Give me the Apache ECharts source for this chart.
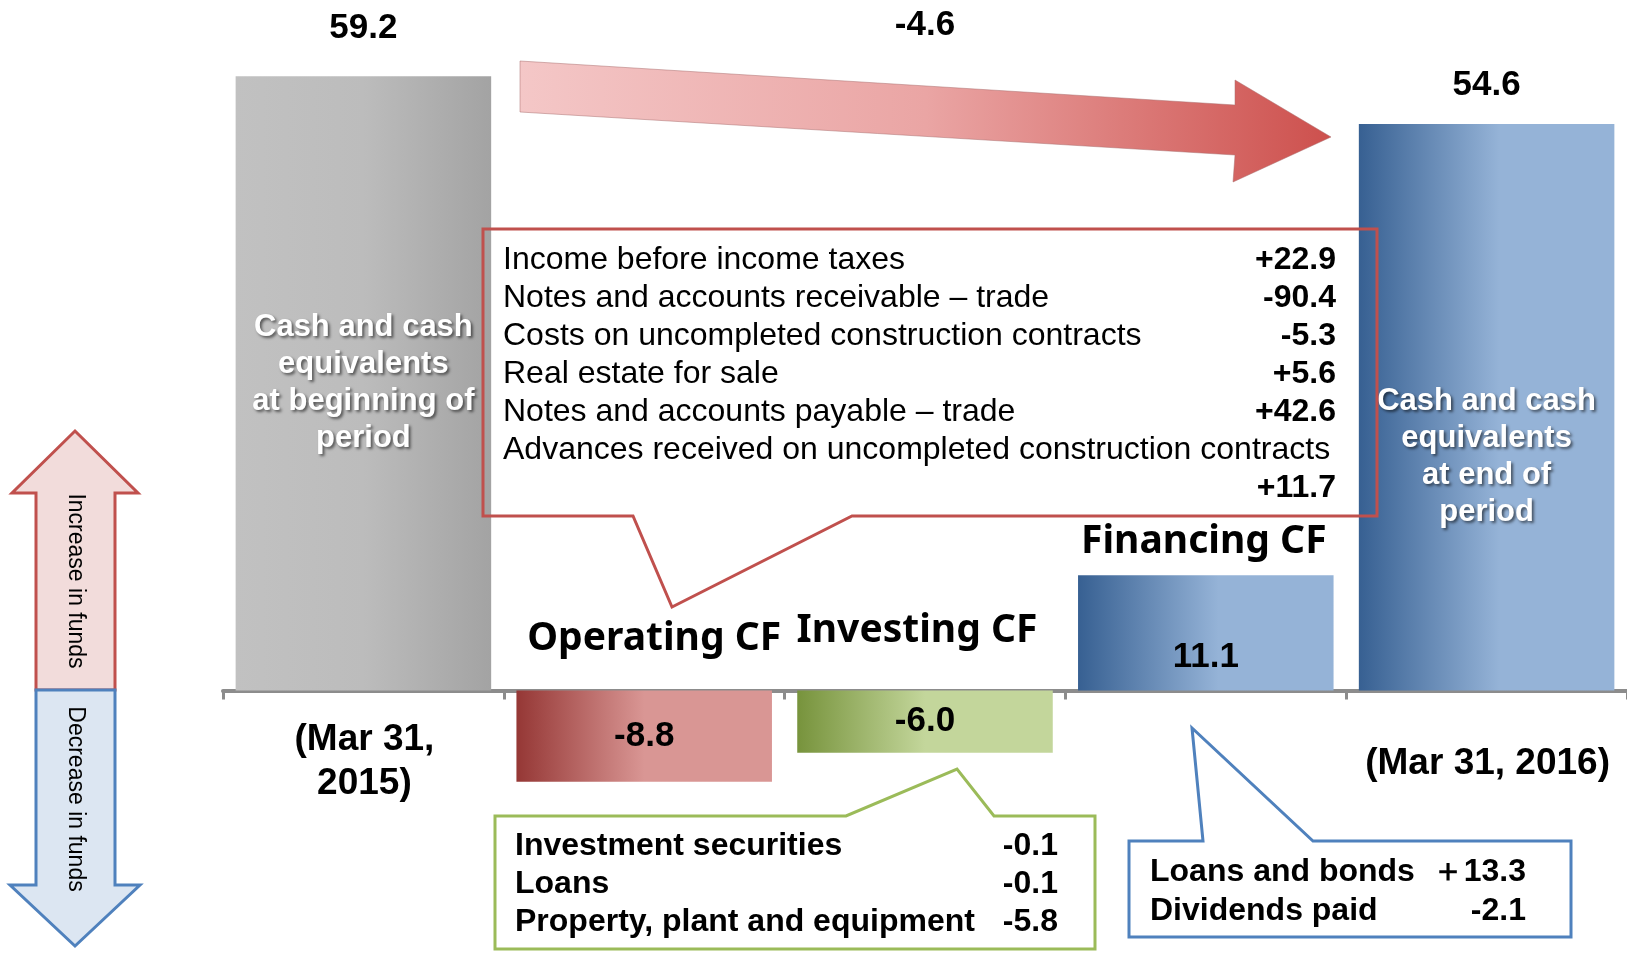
<!DOCTYPE html>
<html>
<head>
<meta charset="utf-8">
<title>Cash flows</title>
<script src="https://cdn.jsdelivr.net/npm/echarts@6/dist/echarts.min.js"></script>
<style>
  html, body { margin: 0; padding: 0; background: #fff; }
  #chart { width: 1627px; height: 953px; }
</style>
</head>
<body>
<div id="chart"></div>
<script>
// amounts as shown on the slide
var categories = ['Beginning', 'Operating CF', 'Investing CF', 'Financing CF', 'End'];
var amounts = [59.2, -8.8, -6.0, 11.1, 54.6];
var netChange = -4.6;
var balanceTitles = ['Cash and cash\nequivalents\nat beginning of\nperiod', 'Cash and cash\nequivalents\nat end of\nperiod'];
var periodDates = ['(Mar 31,\n2015)', '(Mar 31, 2016)'];

var operatingItems = ['Income before income taxes', 'Notes and accounts receivable \u2013 trade',
  'Costs on uncompleted construction contracts', 'Real estate for sale',
  'Notes and accounts payable \u2013 trade', 'Advances received on uncompleted construction contracts'];
var operatingValues = ['+22.9', '-90.4', '-5.3', '+5.6', '+42.6', '+11.7'];
var investingItems = ['Investment securities', 'Loans', 'Property, plant and equipment'];
var investingValues = ['-0.1', '-0.1', '-5.8'];
var financingItems = ['Loans and bonds', 'Dividends paid'];
var financingValues = ['\uff0b13.3', '-2.1'];

var FONT = 'Arial, "Liberation Sans", sans-serif';
var TITLE_FONT = '"Noto Sans", "Open Sans", sans-serif';

function hGrad(stops) {
  return {
    type: 'linear', x: 0, y: 0, x2: 1, y2: 0,
    colorStops: stops.map(function (s) { return { offset: s[0], color: s[1] }; })
  };
}

var barFills = [
  hGrad([[0, '#c1c1c1'], [0.5, '#bcbcbc'], [1, '#a3a3a3']]),
  hGrad([[0, '#953735'], [0.5, '#d99694'], [1, '#d99694']]),
  hGrad([[0, '#77933c'], [0.5, '#c3d69b'], [1, '#c3d69b']]),
  hGrad([[0, '#376092'], [0.55, '#95b3d7'], [1, '#95b3d7']]),
  hGrad([[0, '#376092'], [0.55, '#95b3d7'], [1, '#95b3d7']])
];

var whiteLabel = {
  show: true, position: 'inside', color: '#fff', fontFamily: FONT,
  fontSize: 31, fontWeight: 'bold', lineHeight: 37, align: 'center',
  textShadowColor: 'rgba(0,0,0,0.55)', textShadowBlur: 3,
  textShadowOffsetX: 2, textShadowOffsetY: 2
};
var numLabel = {
  show: true, position: 'inside', color: '#000', fontFamily: FONT,
  fontSize: 35, fontWeight: 'bold',
  formatter: function (p) { return p.value.toFixed(1); }
};

var barData = amounts.map(function (v, i) {
  var label;
  if (i === 0) label = Object.assign({}, whiteLabel, { formatter: balanceTitles[0] });
  else if (i === amounts.length - 1) label = Object.assign({}, whiteLabel, { formatter: balanceTitles[1], offset: [0, 50] });
  else if (v > 0) label = Object.assign({}, numLabel, { position: 'insideBottom', distance: 16 });
  else label = numLabel;
  return { value: v, itemStyle: { color: barFills[i] }, label: label };
});

var topData = amounts.map(function (v, i) {
  var show = (i === 0 || i === amounts.length - 1);
  return {
    value: v,
    label: {
      show: show, position: 'top', distance: i === 0 ? 30 : 21,
      color: '#000', fontFamily: FONT, fontSize: 35, fontWeight: 'bold',
      formatter: function (p) { return p.value.toFixed(1); }
    }
  };
});

var chart = echarts.init(document.getElementById('chart'));
var option = {
  backgroundColor: '#fff',
  animation: false,
  grid: { left: 223, width: 1407, top: 68, bottom: 55, containLabel: false },
  xAxis: {
    type: 'category',
    data: categories,
    axisLine: { onZero: true, lineStyle: { color: '#8c8c8c', width: 4 } },
    axisTick: { show: true, length: 9, lineStyle: { color: '#8c8c8c', width: 3 } },
    axisLabel: { show: false },
    splitLine: { show: false }
  },
  yAxis: {
    type: 'value', min: -20, max: 60, interval: 10,
    show: false, splitLine: { show: false }
  },
  series: [
    {
      type: 'bar', name: 'amount', data: barData,
      barWidth: '91%', barGap: '-100%', z: 2
    },
    {
      type: 'bar', name: 'top', data: topData, silent: true,
      barWidth: '91%', barGap: '-100%', z: 3,
      itemStyle: { color: 'rgba(0,0,0,0)' }
    }
  ]
};
chart.setOption(option);

function px(i, v) { return chart.convertToPixel({ xAxisIndex: 0, yAxisIndex: 0 }, [i, v]); }

function txt(x, y, text, size, weight, align, family, extra) {
  var st = {
    text: text, fontSize: size, fontWeight: weight || 'normal', fontFamily: family || FONT,
    fill: '#000', align: align || 'center', verticalAlign: 'middle',
    textAlign: align || 'center', textVerticalAlign: 'middle'
  };
  if (extra) Object.assign(st, extra);
  return { type: 'text', x: x, y: y, z: 20, style: st };
}

function poly(points, fill, stroke, lw) {
  return { type: 'polygon', z: 15, shape: { points: points }, style: { fill: fill, stroke: stroke, lineWidth: lw } };
}

var g = [];

// trend arrow across the top
g.push({
  type: 'polygon', z: 5,
  shape: { points: [[520, 61], [1235, 105], [1235, 80], [1331, 137], [1233, 182], [1235, 155], [520, 112]] },
  style: { fill: hGrad([[0, '#f4c7c7'], [0.5, '#eaa5a4'], [1, '#cd504d']]), stroke: 'rgba(170,110,110,0.5)', lineWidth: 1 }
});
var pFirst = px(0, 0), pLast = px(amounts.length - 1, 0);
g.push(txt((pFirst[0] + pLast[0]) / 2, 25, netChange.toFixed(1), 35, 'bold'));

// increase / decrease arrows on the left
g.push(poly([[75, 431], [138, 493], [115, 493], [115, 690], [36, 690], [36, 493], [12, 493]], '#f2dcdb', '#c0504d', 3));
g.push(poly([[36, 690], [115, 690], [115, 885], [140, 885], [75, 946], [10, 885], [36, 885]], '#dce6f2', '#4f81bd', 3));
var up = txt(75, 581, 'Increase in funds', 23, 'normal');
up.rotation = -Math.PI / 2;
var down = txt(75, 799, 'Decrease in funds', 23, 'normal');
down.rotation = -Math.PI / 2;
g.push(up, down);

// flow titles
var p1 = px(1, 0), p2 = px(2, 0), p3 = px(3, amounts[3]);
g.push(txt(p1[0] + 10, p1[1] - 52, categories[1], 39, 'bold', 'center', TITLE_FONT));
g.push(txt(p2[0] - 8, p2[1] - 60, categories[2], 39, 'bold', 'center', TITLE_FONT));
g.push(txt(p3[0] - 2, p3[1] - 33, categories[3], 39, 'bold', 'center', TITLE_FONT));

// period dates
g.push(txt(pFirst[0] + 1, pFirst[1] + 71, periodDates[0], 37, 'bold', 'center', FONT, { lineHeight: 44 }));
g.push(txt(pLast[0] + 1, pLast[1] + 73, periodDates[1], 37, 'bold'));

// operating CF callout
g.push(poly([[483, 229], [1377, 229], [1377, 516], [852, 516], [672, 607], [633, 516], [483, 516]], 'none', '#c0504d', 3));
operatingItems.forEach(function (name, i) {
  var y = 260 + i * 38;
  g.push(txt(503, y, name, 32, 'normal', 'left'));
  var vy = i < operatingItems.length - 1 ? y : y + 38;
  g.push(txt(1336, vy, operatingValues[i], 32, 'bold', 'right'));
});

// investing CF callout
g.push(poly([[495, 816], [846, 816], [957, 769], [994, 816], [1095, 816], [1095, 949], [495, 949]], '#fff', '#9bbb59', 3));
investingItems.forEach(function (name, i) {
  var y = 846 + i * 38;
  g.push(txt(515, y, name, 32, 'bold', 'left'));
  g.push(txt(1058, y, investingValues[i], 32, 'bold', 'right'));
});

// financing CF callout
g.push(poly([[1129, 841], [1203, 841], [1192, 728], [1313, 841], [1571, 841], [1571, 937], [1129, 937]], '#fff', '#4f81bd', 3));
financingItems.forEach(function (name, i) {
  var y = 872 + i * 39;
  g.push(txt(1150, y, name, 32, 'bold', 'left'));
  g.push(txt(1526, y, financingValues[i], 32, 'bold', 'right'));
});

chart.setOption({ graphic: { elements: g } });
</script>
</body>
</html>
